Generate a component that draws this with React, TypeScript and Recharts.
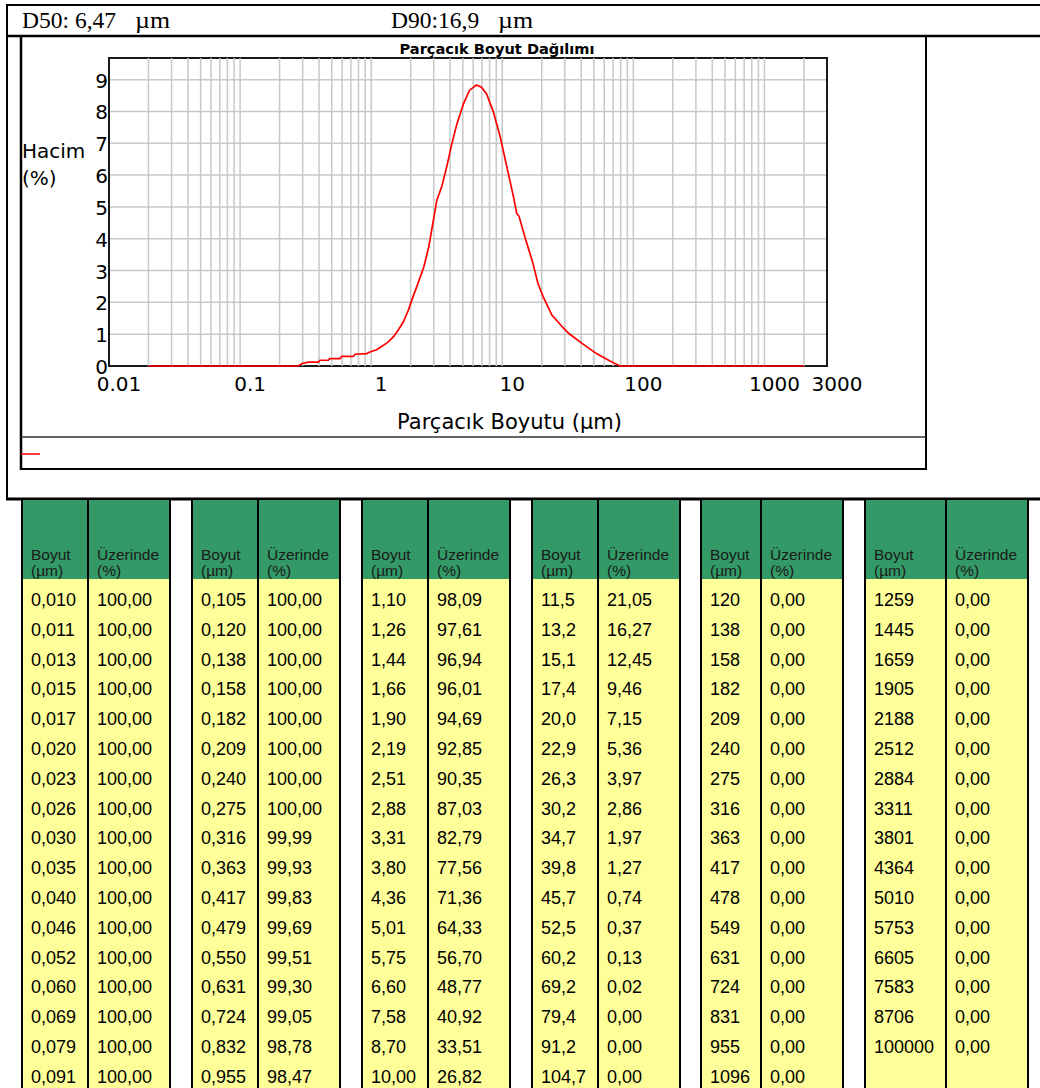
import React from "react";
import {
  LineChart,
  Line,
  XAxis,
  YAxis,
  CartesianGrid,
  ReferenceLine,
  ReferenceArea,
} from "recharts";

// curve: particle size (µm) vs volume (%)
const curveSizes = [
  0.02, 0.278, 0.295, 0.331, 0.395, 0.407, 0.471, 0.485, 0.578, 0.595, 0.731,
  0.753, 0.924, 0.979, 1.1, 1.24, 1.35, 1.48, 1.61, 1.76, 1.92, 2.04, 2.22,
  2.52, 2.75, 2.98, 3.17, 3.45, 3.77, 4.12, 4.51, 5.06, 5.62, 6.34, 6.94, 7.6,
  8.56, 9.66, 10.7, 12.2, 12.9, 13.4, 15.1, 17.1, 18.7, 20.5, 23.9, 29.5, 32.2,
  41.6, 52.3, 66.3, 77.2, 79, 2000,
];
const curveVolumes = [
  0, 0, 0.07, 0.12, 0.12, 0.18, 0.18, 0.23, 0.23, 0.3, 0.3, 0.37, 0.39, 0.44,
  0.51, 0.65, 0.76, 0.92, 1.13, 1.39, 1.75, 2.07, 2.48, 3.11, 3.74, 4.58, 5.21,
  5.63, 6.26, 6.98, 7.61, 8.24, 8.66, 8.83, 8.76, 8.55, 7.98, 7.19, 6.36, 5.3,
  4.79, 4.71, 3.97, 3.24, 2.6, 2.18, 1.6, 1.18, 1.02, 0.68, 0.39, 0.16, 0.02, 0,
  0,
];

const xTicks = [0.01, 0.1, 1, 10, 100, 1000, 3000];
const yTicks = [0, 1, 2, 3, 4, 5, 6, 7, 8, 9];
const gridSizes = [
  0.02, 0.03, 0.04, 0.05, 0.06, 0.07, 0.08, 0.09, 0.1, 0.2, 0.3, 0.4, 0.5, 0.6,
  0.7, 0.8, 0.9, 1, 2, 3, 4, 5, 6, 7, 8, 9, 10, 20, 30, 40, 50, 60, 70, 80, 90,
  100, 200, 300, 400, 500, 600, 700, 800, 900, 1000, 2000,
];
const X_DOMAIN = [0.01, 3000];
const Y_MAX = 9.68;

// table columns (Boyut µm / Üzerinde %)
const sizes1 = ["0,010", "0,011", "0,013", "0,015", "0,017", "0,020", "0,023", "0,026", "0,030", "0,035", "0,040", "0,046", "0,052", "0,060", "0,069", "0,079", "0,091"];
const above1 = ["100,00", "100,00", "100,00", "100,00", "100,00", "100,00", "100,00", "100,00", "100,00", "100,00", "100,00", "100,00", "100,00", "100,00", "100,00", "100,00", "100,00"];
const sizes2 = ["0,105", "0,120", "0,138", "0,158", "0,182", "0,209", "0,240", "0,275", "0,316", "0,363", "0,417", "0,479", "0,550", "0,631", "0,724", "0,832", "0,955"];
const above2 = ["100,00", "100,00", "100,00", "100,00", "100,00", "100,00", "100,00", "100,00", "99,99", "99,93", "99,83", "99,69", "99,51", "99,30", "99,05", "98,78", "98,47"];
const sizes3 = ["1,10", "1,26", "1,44", "1,66", "1,90", "2,19", "2,51", "2,88", "3,31", "3,80", "4,36", "5,01", "5,75", "6,60", "7,58", "8,70", "10,00"];
const above3 = ["98,09", "97,61", "96,94", "96,01", "94,69", "92,85", "90,35", "87,03", "82,79", "77,56", "71,36", "64,33", "56,70", "48,77", "40,92", "33,51", "26,82"];
const sizes4 = ["11,5", "13,2", "15,1", "17,4", "20,0", "22,9", "26,3", "30,2", "34,7", "39,8", "45,7", "52,5", "60,2", "69,2", "79,4", "91,2", "104,7"];
const above4 = ["21,05", "16,27", "12,45", "9,46", "7,15", "5,36", "3,97", "2,86", "1,97", "1,27", "0,74", "0,37", "0,13", "0,02", "0,00", "0,00", "0,00"];
const sizes5 = ["120", "138", "158", "182", "209", "240", "275", "316", "363", "417", "478", "549", "631", "724", "831", "955", "1096"];
const above5 = ["0,00", "0,00", "0,00", "0,00", "0,00", "0,00", "0,00", "0,00", "0,00", "0,00", "0,00", "0,00", "0,00", "0,00", "0,00", "0,00", "0,00"];
const sizes6 = ["1259", "1445", "1659", "1905", "2188", "2512", "2884", "3311", "3801", "4364", "5010", "5753", "6605", "7583", "8706", "100000", ""];
const above6 = ["0,00", "0,00", "0,00", "0,00", "0,00", "0,00", "0,00", "0,00", "0,00", "0,00", "0,00", "0,00", "0,00", "0,00", "0,00", "0,00", ""];

const data = curveSizes.map((s, i) => ({ size: s, vol: curveVolumes[i] }));

const SANS = '"DejaVu Sans", Verdana, sans-serif';
const SERIF = '"Liberation Serif", "Times New Roman", serif';
const GRID = "#c8c8c8";

const XTick = ({ x, y, payload }: any) => (
  <text x={x + 10} y={y} dy="0.71em" textAnchor="middle" fontSize={20} fill="#000" fontFamily={SANS}>
    {String(payload.value)}
  </text>
);

const YTick = ({ x, y, payload }: any) => (
  <text x={x} y={y} dy="0.4em" textAnchor="end" fontSize={20} fill="#000" fontFamily={SANS}>
    {payload.value}
  </text>
);

function Column({ width, title, values }: any) {
  return (
    <div style={{ width, borderRight: "2px solid #000", background: "#ffff99", paddingBottom: 20 }}>
      <div
        style={{
          height: 79,
          background: "#339966",
          display: "flex",
          flexDirection: "column",
          justifyContent: "flex-end",
          paddingLeft: 8,
          boxSizing: "border-box",
          fontSize: 15.5,
          lineHeight: "16px",
          color: "#1a1a1a",
        }}
      >
        <div>{title[0]}</div>
        <div>{title[1]}</div>
      </div>
      {values.map((v: string, i: number) => (
        <div
          key={i}
          style={{
            height: 29.8,
            boxSizing: "border-box",
            paddingLeft: 8,
            paddingTop: 11,
            fontSize: 18,
            lineHeight: "20px",
            color: "#000",
            whiteSpace: "nowrap",
          }}
        >
          {v}
        </div>
      ))}
    </div>
  );
}

function Group({ left, w1, sizes, above }: any) {
  return (
    <div style={{ position: "absolute", left, top: 500, borderLeft: "2px solid #000", display: "flex" }}>
      <Column width={w1} title={["Boyut", "(µm)"]} values={sizes} />
      <Column width={80} title={["Üzerinde", "(%)"]} values={above} />
    </div>
  );
}

export default function App() {
  return (
    <div
      style={{
        position: "fixed",
        left: 0,
        top: 0,
        width: 1040,
        height: 1088,
        overflow: "hidden",
        background: "#fff",
        fontFamily: '"Liberation Sans", Arial, sans-serif',
      }}
    >
      <svg width={1040} height={1088} style={{ position: "absolute", left: 0, top: 0 }}>
        <line x1={6} y1={5} x2={1040} y2={5} stroke="#000" strokeWidth={2} />
        <line x1={7} y1={4} x2={7} y2={499} stroke="#000" strokeWidth={2} />
        <line x1={6} y1={36} x2={1040} y2={36} stroke="#000" strokeWidth={2.5} />
        <line x1={21} y1={36} x2={21} y2={470} stroke="#000" strokeWidth={2.5} />
        <line x1={926} y1={36} x2={926} y2={470} stroke="#000" strokeWidth={2} />
        <line x1={21} y1={437} x2={926} y2={437} stroke="#333" strokeWidth={1.5} />
        <line x1={20} y1={469} x2={927} y2={469} stroke="#000" strokeWidth={2} />
        <line x1={6} y1={499} x2={1040} y2={499} stroke="#000" strokeWidth={3} />
        <line x1={21} y1={454} x2={40} y2={454} stroke="#ff0000" strokeWidth={1.5} />
        <text x={22} y={28} fontSize={23.5} fontFamily={SERIF}>D50: 6,47</text>
        <text x={135} y={28} fontSize={23.5} fontFamily={SERIF} textLength={35} lengthAdjust="spacingAndGlyphs">µm</text>
        <text x={391} y={28} fontSize={23.5} fontFamily={SERIF}>D90:16,9</text>
        <text x={498} y={28} fontSize={23.5} fontFamily={SERIF} textLength={35} lengthAdjust="spacingAndGlyphs">µm</text>
        <text x={497} y={54} textAnchor="middle" fontSize={14.6} fontWeight="bold" fontFamily={SANS}>
          Parçacık Boyut Dağılımı
        </text>
        <text x={22} y={158} fontSize={20} fontFamily={SANS}>Hacim</text>
        <text x={22} y={185} fontSize={20} fontFamily={SANS}>(%)</text>
        <text x={509.5} y={429} textAnchor="middle" fontSize={21} fontFamily={SANS}>
          Parçacık Boyutu (µm)
        </text>
      </svg>

      {/* grid, frame and ticks */}
      <div style={{ position: "absolute", left: 21, top: 36 }}>
        <LineChart
          width={905}
          height={401}
          data={data}
          margin={{ top: 22, right: 99, bottom: 0, left: 0 }}
        >
          <CartesianGrid vertical={false} stroke={GRID} strokeWidth={1.5} />
          {gridSizes.map((v) => (
            <ReferenceLine key={v} x={v} stroke={GRID} strokeWidth={1.5} />
          ))}
          <XAxis
            dataKey="size"
            type="number"
            scale="log"
            domain={X_DOMAIN}
            allowDataOverflow
            ticks={xTicks}
            interval={0}
            height={71}
            axisLine={false}
            tickLine={false}
            tickSize={0}
            tickMargin={11}
            tick={<XTick />}
          />
          <YAxis
            type="number"
            domain={[0, Y_MAX]}
            allowDataOverflow
            ticks={yTicks}
            interval={0}
            width={88}
            axisLine={false}
            tickLine={false}
            tickSize={0}
            tickMargin={1}
            tick={<YTick />}
          />
          <ReferenceArea
            x1={X_DOMAIN[0]}
            x2={X_DOMAIN[1]}
            y1={0}
            y2={Y_MAX}
            fill="none"
            stroke="#1a1a1a"
            strokeWidth={2}
          />
        </LineChart>
      </div>

      {/* the curve, on top of the frame and not clipped, so the zero stretch stays red */}
      <div style={{ position: "absolute", left: 21, top: 36 }}>
        <LineChart
          width={905}
          height={401}
          data={data}
          margin={{ top: 22, right: 99, bottom: 71, left: 88 }}
        >
          <XAxis dataKey="size" type="number" scale="log" domain={X_DOMAIN} hide />
          <YAxis type="number" domain={[0, Y_MAX]} hide />
          <Line
            dataKey="vol"
            type="linear"
            stroke="#ff0000"
            strokeWidth={1.7}
            dot={false}
            isAnimationActive={false}
          />
        </LineChart>
      </div>

      <Group left={21} w1={64} sizes={sizes1} above={above1} />
      <Group left={191} w1={64} sizes={sizes2} above={above2} />
      <Group left={361} w1={64} sizes={sizes3} above={above3} />
      <Group left={531} w1={64} sizes={sizes4} above={above4} />
      <Group left={700} w1={58} sizes={sizes5} above={above5} />
      <Group left={864} w1={79} sizes={sizes6} above={above6} />
    </div>
  );
}
